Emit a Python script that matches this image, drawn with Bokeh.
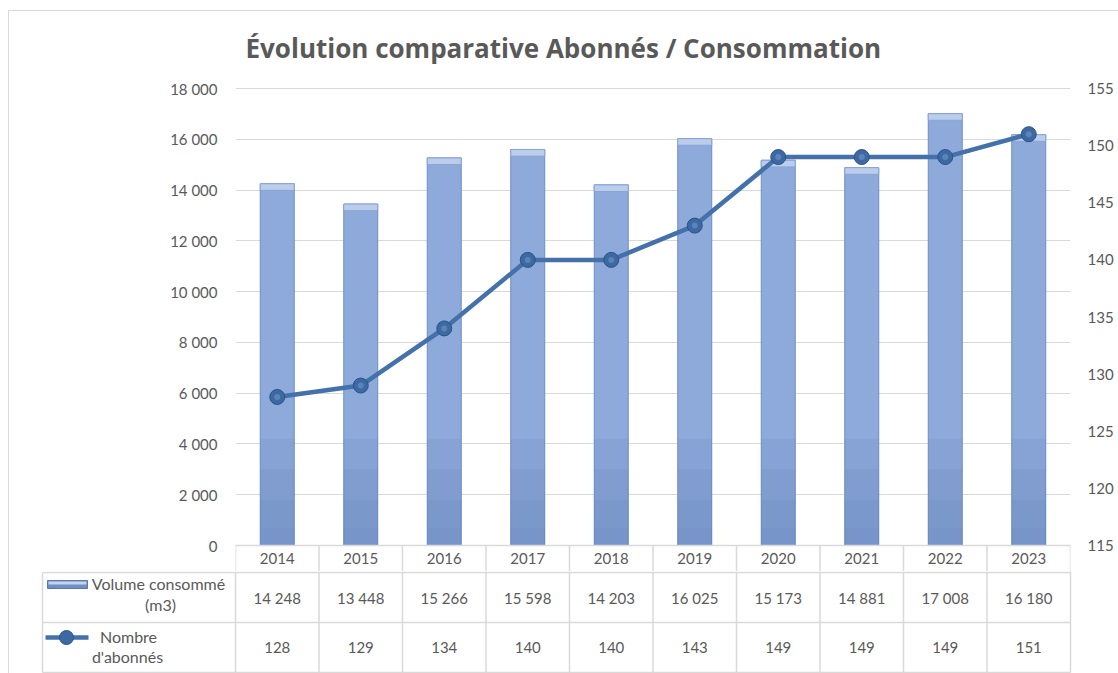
from bokeh.plotting import figure
from bokeh.models import Range1d, LinearAxis, FixedTicker, InlineStyleSheet, Title
from bokeh.layouts import column
from bokeh.core.properties import value
from bokeh.embed import file_html
from bokeh.resources import INLINE

# ---------------- data ----------------
years = ["2014", "2015", "2016", "2017", "2018", "2019", "2020", "2021", "2022", "2023"]
volume = [14248, 13448, 15266, 15598, 14203, 16025, 15173, 14881, 17008, 16180]
abonnes = [128, 129, 134, 140, 140, 143, 149, 149, 149, 151]
left_ticks = [0, 2000, 4000, 6000, 8000, 10000, 12000, 14000, 16000, 18000]
left_tick_labels = ["0", "2 000", "4 000", "6 000", "8 000", "10 000", "12 000", "14 000", "16 000", "18 000"]
right_ticks = [115, 120, 125, 130, 135, 140, 145, 150, 155]
title_text = "Évolution comparative Abonnés / Consommation"
series1_label = ["Volume consommé", "(m3)"]
series2_label = ["Nombre", "d'abonnés"]

# ---------------- layout (pixels) ----------------
W = 1118
H_TOP = 571           # top figure: canvas rows 0..571 (plot + header row of table)
H_TAB = 673 - H_TOP   # table figure (two data rows)
FR_L, FR_R = 235, 1070
FR_T = 87             # frame top (18000 line at 88)
Y0 = 545              # pixel of value 0
FONT = "Lato"
TXT = "#595959"
GRID = "#d9d9d9"
n = len(years)
centers = [i + 0.5 for i in range(n)]
bounds = list(range(n + 1))
ppu = (FR_R - FR_L) / n
y_top = left_ticks[-1]
r_lo, r_hi = right_ticks[0], right_ticks[-1]
ppy = (Y0 - 88) / y_top
y_start = -(H_TOP - Y0) / ppy
y_end = y_top + (88 - FR_T) / ppy
rk = (r_hi - r_lo) / y_top

p1 = figure(width=W, height=H_TOP, x_range=Range1d(0, n), y_range=Range1d(y_start, y_end),
            min_border_left=FR_L, min_border_right=W - FR_R, min_border_top=FR_T,
            min_border_bottom=0, x_axis_location=None, toolbar_location=None, output_backend="svg",
            outline_line_color=None, background_fill_color="white", border_fill_alpha=0,
            frame_align=False)
p1.extra_y_ranges = {"right": Range1d(r_lo + y_start * rk, r_lo + y_end * rk)}

p1.title = Title(text=title_text, align="left", offset=10, text_font="Open Sans",
                 text_font_size="26px", text_font_style="bold", text_color=TXT, standoff=44)

ya = p1.yaxis[0]
ya.ticker = FixedTicker(ticks=left_ticks)
ya.major_label_overrides = {k: v for k, v in zip(left_ticks, left_tick_labels)}
ya.axis_line_color = None
ya.major_tick_line_color = None
ya.minor_tick_line_color = None
ya.major_label_text_font = FONT
ya.major_label_text_font_size = "15px"
ya.major_label_text_color = TXT
ya.major_label_standoff = 12

ra = LinearAxis(y_range_name="right", ticker=FixedTicker(ticks=right_ticks),
                axis_line_color=None, major_tick_line_color=None, minor_tick_line_color=None,
                major_label_text_font=FONT, major_label_text_font_size="15px",
                major_label_text_color=TXT, major_label_standoff=11)
p1.add_layout(ra, "right")

p1.xgrid.visible = False
p1.ygrid.ticker = FixedTicker(ticks=left_ticks)
p1.ygrid.grid_line_color = GRID
p1.ygrid.grid_line_width = 1.2

# bars
bw = 0.407
p1.vbar(x=centers, top=volume, width=bw, fill_color="#8eaadb", line_color="#6f8ec2", line_width=1)
shade = [(4200, 0.1), (3000, 0.1), (1800, 0.1), (700, 0.08)]
for top, a in shade:
    p1.vbar(x=centers, top=top, width=bw, fill_color="#4f6ea3", fill_alpha=a, line_color=None)
cap = [v - 260 for v in volume]
p1.vbar(x=centers, top=volume, bottom=cap, width=bw, fill_color="#bccdec", line_color="#8aa5d6", line_width=1)

# category axis line, header-row separators and year labels (table header)
p1.segment(x0=[0], x1=[n], y0=[0], y1=[0], line_color=GRID, line_width=1.5)
p1.segment(x0=bounds, x1=bounds, y0=[0] * len(bounds), y1=[y_start] * len(bounds),
           line_color=GRID, line_width=1.5)
p1.text(x=centers, y=[-(558 - Y0) / ppy] * n, text=years, text_align="center",
        text_baseline="middle", text_font=value(FONT), text_font_size="15px", text_color=TXT)

# line
p1.line(x=centers, y=abonnes, y_range_name="right", line_color="#4471a9", line_width=4.5)
p1.scatter(x=centers, y=abonnes, y_range_name="right", size=15, fill_color="#3c69a1",
           line_color="#2c5386", line_width=1)
p1.scatter(x=centers, y=abonnes, y_range_name="right", size=6, fill_color="#7ea4d6",
           fill_alpha=0.45, line_color=None)

# ---------------- table ----------------
ROW = 50
ROW1_TOP = 572
x0 = -FR_L / ppu
x1 = (W - FR_L) / ppu
p2 = figure(width=W, height=H_TAB, x_range=Range1d(x0, x1),
            y_range=Range1d(-(673 - ROW1_TOP) / ROW, (ROW1_TOP - H_TOP) / ROW),
            min_border_left=0, min_border_right=0, min_border_top=0, min_border_bottom=0,
            x_axis_location=None, y_axis_location=None, toolbar_location=None,
            output_backend="svg", outline_line_color=None, background_fill_alpha=0,
            border_fill_alpha=0, frame_align=False)
p2.xgrid.visible = False
p2.ygrid.visible = False


def px(xp):
    return (xp - FR_L) / ppu


def py(yp):
    return (ROW1_TOP - yp) / ROW


hdr_top = (ROW1_TOP - H_TOP) / ROW
lc = px(42)
p2.segment(x0=[lc] * 3, x1=[n] * 3, y0=[0, -1, -2], y1=[0, -1, -2], line_color=GRID, line_width=1.5)
p2.segment(x0=bounds, x1=bounds, y0=[hdr_top] * len(bounds), y1=[-2] * len(bounds),
           line_color=GRID, line_width=1.5)
p2.segment(x0=[lc], x1=[lc], y0=[0], y1=[-2], line_color=GRID, line_width=1.5)

fmt = [f"{v:,}".replace(",", " ") for v in volume]
p2.text(x=centers, y=[-0.5] * n, text=fmt, text_align="center", text_baseline="middle",
        text_font=value(FONT), text_font_size="15px", text_color=TXT)
p2.text(x=centers, y=[-1.5] * n, text=[str(a) for a in abonnes], text_align="center",
        text_baseline="middle", text_font=value(FONT), text_font_size="15px", text_color=TXT)

# legend keys
p2.quad(left=[px(47)], right=[px(87)], top=[py(580)], bottom=[py(588)], fill_color="#6f8ec2",
        line_color="#5b78aa", line_width=1)
p2.quad(left=[px(48)], right=[px(86)], top=[py(581)], bottom=[py(584)], fill_color="#c3d3ee",
        line_color=None)
p2.text(x=[px(158), px(160)], y=[py(583), py(604)], text=series1_label, text_align="center",
        text_baseline="middle", text_font=value(FONT), text_font_size="16px", text_color=TXT)
p2.line(x=[px(45), px(88)], y=[py(637), py(637)], line_color="#4471a9", line_width=4.5)
p2.scatter(x=[px(66)], y=[py(637)], size=14, fill_color="#3c69a1", line_color="#2c5386")
p2.text(x=[px(128), px(127)], y=[py(636), py(656)], text=series2_label, text_align="center",
        text_baseline="middle", text_font=value(FONT), text_font_size="16px", text_color=TXT)

css = InlineStyleSheet(css=(
    ":host{background-image:linear-gradient(#d9d9d9,#d9d9d9),linear-gradient(#d9d9d9,#d9d9d9);"
    "background-size:1px 100%,100% 1px;background-position:8px 10px,8px 10px;"
    "background-repeat:no-repeat;}"))
lay = column(p1, p2, spacing=0, stylesheets=[css])

open("out.html", "w").write(file_html(lay, INLINE))
